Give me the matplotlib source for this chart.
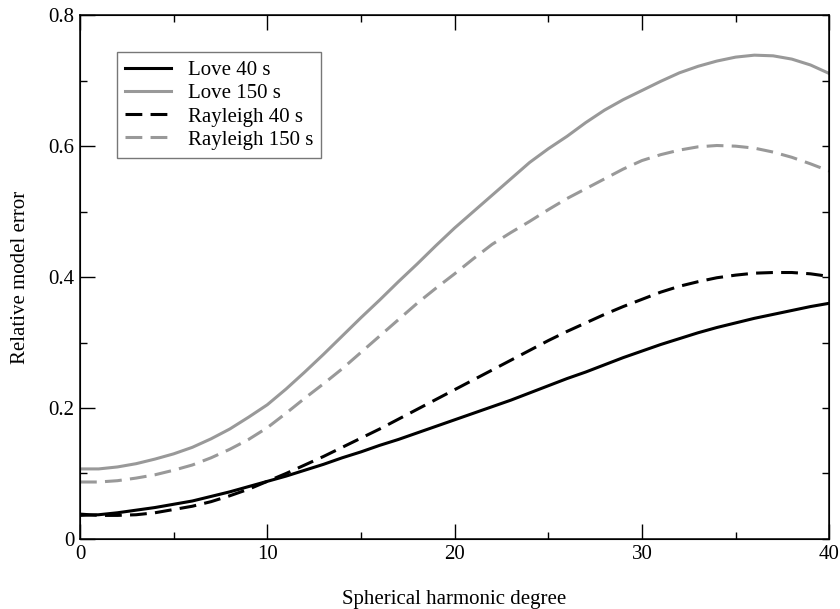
import matplotlib
matplotlib.use("Agg")
import matplotlib.pyplot as plt
from matplotlib.ticker import MultipleLocator, FuncFormatter

# Values, one per degree
degree = list(range(0, 41))
love_40 = [0.036, 0.037, 0.040, 0.044, 0.048, 0.053, 0.058, 0.065, 0.072, 0.080,
           0.088, 0.096, 0.105, 0.114, 0.124, 0.133, 0.143, 0.152, 0.162, 0.172,
           0.182, 0.192, 0.202, 0.212, 0.223, 0.234, 0.245, 0.255, 0.266, 0.277,
           0.287, 0.297, 0.306, 0.315, 0.323, 0.330, 0.337, 0.343, 0.349, 0.355, 0.360]
love_150 = [0.107, 0.107, 0.110, 0.115, 0.122, 0.130, 0.140, 0.153, 0.168, 0.186,
            0.205, 0.229, 0.255, 0.282, 0.310, 0.338, 0.365, 0.393, 0.420, 0.448,
            0.475, 0.500, 0.525, 0.550, 0.575, 0.596, 0.615, 0.636, 0.655, 0.671,
            0.685, 0.699, 0.712, 0.722, 0.730, 0.736, 0.739, 0.738, 0.733, 0.724, 0.711]
rayleigh_40 = [0.038, 0.036, 0.036, 0.037, 0.040, 0.045, 0.050, 0.057, 0.066, 0.076,
               0.088, 0.100, 0.113, 0.126, 0.140, 0.154, 0.168, 0.183, 0.198, 0.213,
               0.228, 0.243, 0.258, 0.273, 0.288, 0.303, 0.317, 0.330, 0.343, 0.355,
               0.366, 0.377, 0.386, 0.393, 0.399, 0.403, 0.406, 0.407, 0.407, 0.405, 0.401]
rayleigh_150 = [0.087, 0.087, 0.089, 0.093, 0.098, 0.105, 0.113, 0.124, 0.137, 0.152,
                0.170, 0.192, 0.215, 0.237, 0.260, 0.285, 0.310, 0.335, 0.360, 0.383,
                0.405, 0.428, 0.450, 0.468, 0.485, 0.503, 0.520, 0.535, 0.550, 0.565,
                0.578, 0.587, 0.594, 0.599, 0.601, 0.600, 0.597, 0.591, 0.583, 0.573, 0.562]

plt.rcParams["font.family"] = ["Liberation Serif", "DejaVu Serif"]

fig = plt.figure(figsize=(8.4, 6.09), dpi=100)
ax = fig.add_axes([0.0952, 0.115, 0.892, 0.86])

gray = "#999999"
lw = 2.2
dash = (5.5, 2.7)
ax.plot(degree, love_40, color="black", lw=lw, label="Love 40 s")
ax.plot(degree, love_150, color=gray, lw=lw, label="Love 150 s")
ax.plot(degree, rayleigh_40, color="black", lw=lw, dashes=dash, label="Rayleigh 40 s")
ax.plot(degree, rayleigh_150, color=gray, lw=lw, dashes=dash, label="Rayleigh 150 s")

ax.set_xlim(0, 40)
ax.set_ylim(0, 0.8)
ax.xaxis.set_major_locator(MultipleLocator(10))
ax.xaxis.set_minor_locator(MultipleLocator(5))
ax.yaxis.set_major_locator(MultipleLocator(0.2))
ax.yaxis.set_minor_locator(MultipleLocator(0.1))
ax.yaxis.set_major_formatter(FuncFormatter(lambda v, p: "0" if abs(v) < 1e-9 else f"{v:.1f}"))

ax.tick_params(which="both", direction="in", top=True, right=False, width=1.0,
               labelsize=15, colors="black")
ax.tick_params(which="major", length=10.8, pad=4)
ax.tick_params(which="minor", length=5)
for s in ax.spines.values():
    s.set_linewidth(1.1)

# right side only carries short ticks
axr = ax.twinx()
axr.set_ylim(0, 0.8)
axr.yaxis.set_major_locator(MultipleLocator(0.1))
axr.tick_params(direction="in", length=5, width=1.0, labelright=False)

ax.set_xlabel("Spherical harmonic degree", fontsize=15, labelpad=19)
ax.set_ylabel("Relative model error", fontsize=15, labelpad=13)

leg = ax.legend(loc="upper left", bbox_to_anchor=(0.049, 0.929), borderaxespad=0,
                fontsize=15, frameon=True, fancybox=False, edgecolor="#555555",
                handlelength=2.2, borderpad=0.4, labelspacing=0.17, handletextpad=0.8)
leg.get_frame().set_linewidth(1.0)

fig.savefig("out.png", dpi=100)
